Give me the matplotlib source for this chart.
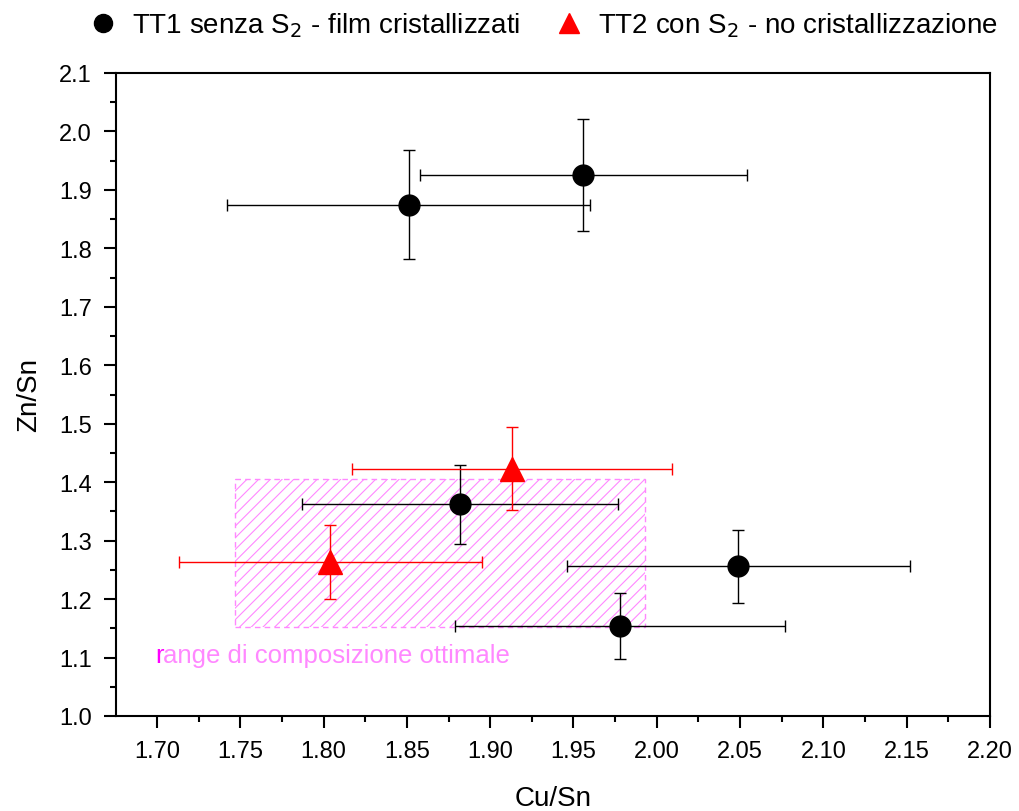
import matplotlib
matplotlib.use('Agg')
import matplotlib.pyplot as plt
from matplotlib.patches import Rectangle
from matplotlib.lines import Line2D
from matplotlib.ticker import MultipleLocator, FormatStrFormatter
import numpy as np

plt.rcParams['font.family'] = ['Liberation Sans', 'DejaVu Sans']

# TT1 senza S2 - film cristallizzati
tt1_cu = np.array([1.851, 1.956, 1.882, 2.049, 1.978])
tt1_zn = np.array([1.875, 1.925, 1.362, 1.256, 1.154])
tt1_xerr = np.array([0.109, 0.098, 0.095, 0.103, 0.099])
tt1_yerr = np.array([0.093, 0.096, 0.068, 0.063, 0.057])

# TT2 con S2 - no cristallizzazione
tt2_cu = np.array([1.804, 1.913])
tt2_zn = np.array([1.264, 1.423])
tt2_xerr = np.array([0.091, 0.096])
tt2_yerr = np.array([0.063, 0.071])

# range di composizione ottimale
range_cu = (1.747, 1.993)
range_zn = (1.152, 1.405)

fig = plt.figure(figsize=(10.19, 8.12), dpi=100)
ax = fig.add_axes([116 / 1019, 1 - 717 / 812, 874 / 1019, 643 / 812])
ax.set_xlim(1.6754, 2.2)
ax.set_ylim(1.0, 2.1)

pink = '#ff88ff'
rect = Rectangle((range_cu[0], range_zn[0]), range_cu[1] - range_cu[0],
                 range_zn[1] - range_zn[0], fill=False, edgecolor=pink,
                 linestyle=(0, (4, 3)), linewidth=1.0, zorder=2)
ax.add_patch(rect)

# diagonal hatch lines, ~12 px apart, clipped to the rectangle
(x0, y0), (x1, y1) = ax.transData.transform([(range_cu[0], range_zn[0]),
                                             (range_cu[1], range_zn[1])])
h = y1 - y0
for off in np.arange(x0 - h, x1, 11.7):
    ln = Line2D([off, off + h], [y0, y1], color=pink, linewidth=0.8, zorder=1)
    ln.set_transform(None)
    ax.add_line(ln)
    ln.set_clip_path(rect)

# label: first letter darker magenta, rest light pink
t_r = ax.text(1.6988, 1.092, 'r', color='#ff00ff', fontsize=18.5,
              va='baseline', ha='left')
fig.canvas.draw()
r_w = t_r.get_window_extent().width * 72 / fig.dpi
ax.annotate('ange di composizione ottimale', xy=(1.6988, 1.092),
            xytext=(r_w, 0), textcoords='offset points', color=pink,
            fontsize=18.5, va='baseline', ha='left')

ax.errorbar(tt1_cu, tt1_zn, xerr=tt1_xerr, yerr=tt1_yerr, fmt='o', color='black',
            ecolor='black', elinewidth=1, capsize=4.5, capthick=1, markersize=15,
            zorder=3)
ax.errorbar(tt2_cu, tt2_zn, xerr=tt2_xerr, yerr=tt2_yerr, fmt='^', color='red',
            ecolor='red', elinewidth=1, capsize=4.5, capthick=1, markersize=17,
            zorder=3)

ax.xaxis.set_major_locator(MultipleLocator(0.05))
ax.xaxis.set_minor_locator(MultipleLocator(0.025))
ax.yaxis.set_major_locator(MultipleLocator(0.1))
ax.yaxis.set_minor_locator(MultipleLocator(0.05))
ax.xaxis.set_major_formatter(FormatStrFormatter('%.2f'))
ax.yaxis.set_major_formatter(FormatStrFormatter('%.1f'))
ax.tick_params(which='major', direction='out', length=8.5, width=1.5,
               labelsize=17, pad=9)
ax.tick_params(which='minor', direction='out', length=4, width=1.5)
for s in ax.spines.values():
    s.set_linewidth(1.5)

ax.set_xlabel('Cu/Sn', fontsize=20, labelpad=16)
ax.set_ylabel('Zn/Sn', fontsize=20, labelpad=12)

handles = [Line2D([], [], marker='o', color='black', linestyle='none', markersize=13),
           Line2D([], [], marker='^', color='red', linestyle='none', markersize=15)]
labels = ['TT1 senza S$_2$ - film cristallizzati', 'TT2 con S$_2$ - no cristallizzazione']
fig.legend(handles, labels, loc='center', bbox_to_anchor=(0.530, 0.968), ncol=2,
           frameon=False, fontsize=20, columnspacing=1.0, handletextpad=0.3,
           handlelength=1.5)

fig.savefig('out.png', dpi=100)
